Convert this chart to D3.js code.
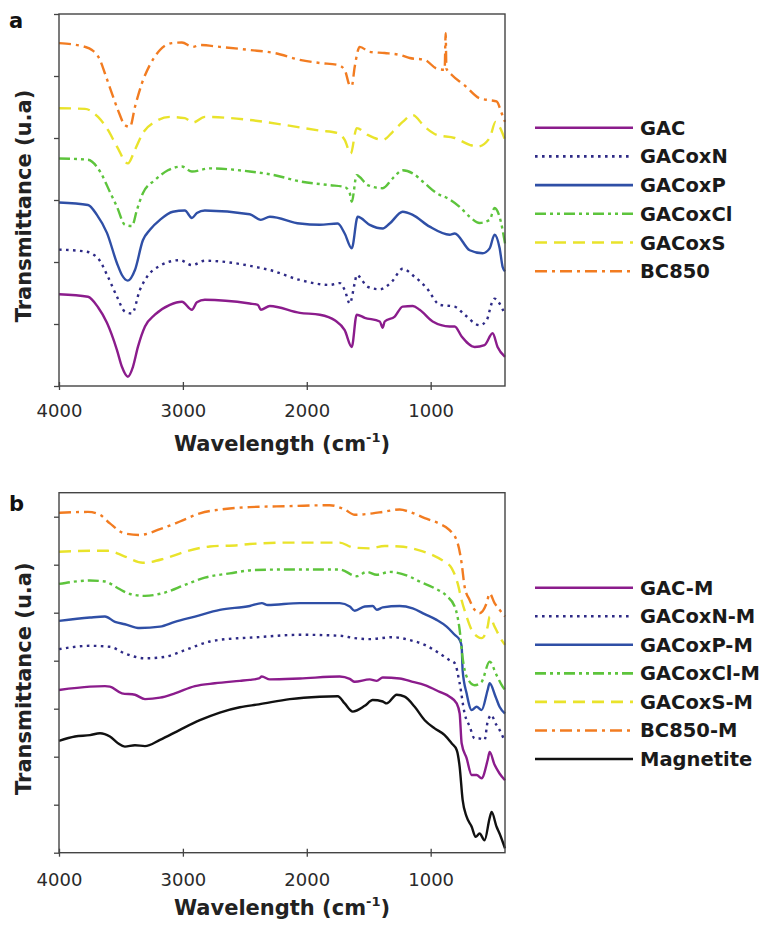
<!DOCTYPE html>
<html>
<head>
<meta charset="utf-8">
<script src="https://cdn.jsdelivr.net/npm/d3@7/dist/d3.min.js"></script>
<style>
  body { margin: 0; background: #fff; }
  text { font-family: "DejaVu Sans", sans-serif; }
</style>
</head>
<body>
<svg id="chart" width="766" height="926"></svg>
<script>
// ---- axis ticks ----
const wavenumberTicks = [4000, 3000, 2000, 1000];
const ticksA = [0, 1, 2, 3, 4, 5, 6];
const ticksB = [0, 1, 2, 3, 4, 5, 6, 7];

// ---- series names ----
const seriesA = ["GAC", "GACoxN", "GACoxP", "GACoxCl", "GACoxS", "BC850"];
const seriesB = ["GAC-M", "GACoxN-M", "GACoxP-M", "GACoxCl-M", "GACoxS-M", "BC850-M", "Magnetite"];

// ---- FTIR spectra, panel a: [wavenumber cm-1, transmittance (a.u., offset)] ----
const GAC = [[4000,1.48],[3766,1.44],[3685,1.27],[3613,1.02],[3532,0.58],[3492,0.31],[3444,0.15],[3403,0.31],[3363,0.63],[3306,0.96],[3226,1.15],[3105,1.31],[3008,1.36],[2927,1.23],[2887,1.35],[2823,1.39],[2460,1.33],[2395,1.31],[2371,1.23],[2298,1.29],[2056,1.18],[1895,1.15],[1774,1.06],[1694,0.90],[1637,0.63],[1597,1.15],[1532,1.10],[1411,1.04],[1387,0.94],[1371,1.04],[1290,1.12],[1226,1.28],[1145,1.29],[1089,1.23],[984,1.04],[847,0.96],[806,0.96],[750,0.80],[645,0.63],[565,0.66],[500,0.85],[460,0.63],[400,0.47]];
const GACoxN = [[4000,2.20],[3790,2.17],[3685,2.06],[3605,1.76],[3532,1.44],[3468,1.20],[3411,1.17],[3347,1.55],[3290,1.76],[3185,1.94],[3024,2.03],[2927,1.95],[2823,2.02],[2387,1.91],[2298,1.87],[2056,1.71],[1815,1.63],[1734,1.66],[1694,1.55],[1653,1.33],[1613,1.66],[1597,1.79],[1508,1.60],[1411,1.56],[1315,1.68],[1226,1.89],[1129,1.76],[1032,1.58],[927,1.31],[806,1.28],[726,1.15],[605,0.98],[548,1.06],[508,1.33],[484,1.41],[444,1.33],[400,1.15]];
const GACoxP = [[4000,2.96],[3766,2.92],[3694,2.76],[3613,2.47],[3532,1.98],[3492,1.79],[3444,1.70],[3387,1.87],[3323,2.35],[3266,2.52],[3185,2.68],[3081,2.81],[2984,2.83],[2927,2.71],[2887,2.79],[2823,2.83],[2460,2.77],[2371,2.68],[2298,2.73],[2056,2.62],[1895,2.60],[1750,2.62],[1694,2.46],[1637,2.22],[1589,2.73],[1492,2.60],[1387,2.54],[1331,2.62],[1226,2.81],[1145,2.76],[1008,2.57],[847,2.44],[806,2.46],[685,2.19],[581,2.14],[524,2.22],[484,2.44],[444,2.23],[419,1.92],[400,1.85]];
const GACoxCl = [[4000,3.67],[3766,3.65],[3669,3.46],[3589,3.13],[3532,2.89],[3468,2.60],[3411,2.58],[3371,2.84],[3323,3.11],[3226,3.32],[3121,3.48],[3008,3.54],[2927,3.46],[2782,3.51],[2460,3.46],[2258,3.40],[2056,3.30],[1815,3.24],[1694,3.21],[1653,3.11],[1637,2.97],[1597,3.40],[1508,3.24],[1387,3.19],[1306,3.35],[1226,3.48],[1145,3.43],[1048,3.27],[952,3.11],[847,3.01],[766,2.89],[685,2.73],[605,2.63],[524,2.68],[484,2.87],[444,2.73],[400,2.30]];
const GACoxS = [[4000,4.48],[3790,4.47],[3685,4.34],[3605,4.13],[3532,3.86],[3444,3.59],[3387,3.81],[3323,4.08],[3226,4.26],[3105,4.34],[2984,4.32],[2919,4.25],[2823,4.34],[2460,4.29],[2177,4.21],[1895,4.12],[1750,4.08],[1694,3.97],[1645,3.75],[1597,4.16],[1508,4.05],[1387,3.97],[1306,4.10],[1226,4.26],[1145,4.37],[1048,4.18],[952,4.05],[806,4.00],[685,3.89],[621,3.86],[524,4.00],[476,4.26],[444,4.18],[400,3.97]];
const BC850 = [[4000,5.53],[3790,5.47],[3734,5.42],[3669,5.26],[3629,5.04],[3573,4.72],[3524,4.45],[3468,4.21],[3427,4.18],[3387,4.50],[3331,4.88],[3266,5.18],[3185,5.42],[3089,5.53],[3008,5.54],[2919,5.47],[2863,5.50],[2702,5.47],[2460,5.42],[2258,5.37],[2056,5.26],[1895,5.21],[1750,5.18],[1694,5.10],[1653,4.85],[1637,4.84],[1613,5.15],[1573,5.47],[1492,5.39],[1371,5.37],[1250,5.34],[1169,5.29],[1048,5.26],[952,5.12],[887,5.10],[879,5.69],[873,5.12],[831,5.02],[726,4.85],[605,4.64],[524,4.61],[468,4.59],[427,4.40],[400,4.26]];

// ---- FTIR spectra, panel b (magnetite composites) ----
const GAC_M = [[4000,3.39],[3750,3.46],[3629,3.47],[3589,3.46],[3492,3.32],[3387,3.29],[3306,3.20],[3185,3.23],[3065,3.32],[2903,3.47],[2742,3.53],[2540,3.58],[2460,3.60],[2387,3.63],[2363,3.67],[2298,3.61],[2056,3.63],[1734,3.67],[1653,3.62],[1613,3.56],[1492,3.61],[1435,3.58],[1387,3.65],[1250,3.63],[1145,3.56],[1048,3.49],[927,3.35],[847,3.25],[790,3.11],[766,2.90],[750,2.28],[710,1.97],[669,1.62],[629,1.62],[589,1.55],[540,1.93],[524,2.10],[484,1.83],[444,1.65],[400,1.51]];
const GACoxN_M = [[4000,4.24],[3750,4.31],[3589,4.29],[3468,4.15],[3306,4.05],[3145,4.08],[2984,4.22],[2782,4.40],[2540,4.47],[2460,4.48],[2056,4.54],[1734,4.52],[1613,4.47],[1492,4.45],[1306,4.49],[1169,4.43],[1048,4.33],[927,4.15],[847,4.01],[806,3.95],[766,3.53],[726,2.90],[685,2.63],[645,2.38],[605,2.38],[565,2.35],[540,2.73],[508,2.87],[484,2.73],[444,2.56],[400,2.31]];
const GACoxP_M = [[4000,4.83],[3750,4.90],[3629,4.92],[3548,4.81],[3468,4.76],[3347,4.68],[3185,4.71],[3065,4.81],[2903,4.92],[2702,5.06],[2460,5.14],[2363,5.20],[2315,5.16],[2056,5.20],[1734,5.20],[1653,5.13],[1613,5.04],[1532,5.13],[1468,5.14],[1435,5.06],[1387,5.11],[1250,5.14],[1145,5.09],[1048,4.97],[952,4.85],[871,4.71],[806,4.54],[766,4.43],[750,4.30],[742,3.80],[710,3.32],[669,2.97],[629,3.04],[589,2.97],[540,3.39],[524,3.53],[476,3.25],[444,3.04],[400,2.90]];
const GACoxCl_M = [[4000,5.60],[3750,5.67],[3629,5.65],[3524,5.51],[3427,5.39],[3306,5.35],[3145,5.42],[2984,5.58],[2823,5.73],[2621,5.82],[2419,5.89],[2137,5.90],[1734,5.90],[1597,5.76],[1516,5.85],[1435,5.79],[1331,5.85],[1169,5.75],[1089,5.65],[968,5.51],[871,5.35],[806,5.13],[766,4.64],[742,4.06],[710,3.67],[645,3.49],[589,3.56],[524,3.98],[468,3.70],[419,3.46],[400,3.39]];
const GACoxS_M = [[4000,6.27],[3750,6.29],[3605,6.29],[3468,6.17],[3323,6.04],[3145,6.13],[2984,6.27],[2782,6.38],[2540,6.41],[2460,6.43],[2137,6.46],[1734,6.46],[1629,6.36],[1492,6.34],[1371,6.39],[1250,6.38],[1105,6.31],[984,6.20],[887,6.06],[831,5.93],[782,5.61],[750,5.26],[710,4.92],[669,4.64],[621,4.50],[589,4.47],[540,4.71],[524,4.92],[484,4.71],[427,4.43],[400,4.33]];
const BC850_M = [[4000,7.08],[3766,7.10],[3669,7.04],[3589,6.86],[3468,6.65],[3347,6.62],[3185,6.74],[3024,6.90],[2863,7.07],[2661,7.16],[2460,7.20],[2137,7.22],[1815,7.24],[1694,7.15],[1613,7.04],[1468,7.07],[1387,7.10],[1250,7.15],[1169,7.10],[1048,6.97],[927,6.85],[847,6.72],[782,6.45],[750,6.03],[726,5.54],[685,5.26],[645,5.06],[605,4.99],[548,5.20],[524,5.40],[484,5.20],[444,5.06],[400,4.92]];
const Magnetite = [[4000,2.33],[3871,2.42],[3750,2.45],[3669,2.49],[3589,2.42],[3524,2.28],[3468,2.21],[3387,2.24],[3306,2.22],[3185,2.35],[3024,2.56],[2863,2.76],[2702,2.92],[2540,3.03],[2387,3.09],[2137,3.20],[1895,3.25],[1750,3.26],[1694,3.11],[1629,2.94],[1532,3.06],[1468,3.18],[1387,3.15],[1355,3.11],[1274,3.29],[1210,3.25],[1129,3.04],[1048,2.76],[968,2.59],[887,2.45],[831,2.28],[790,2.14],[766,1.79],[742,1.10],[710,0.75],[669,0.54],[637,0.33],[605,0.40],[565,0.26],[524,0.72],[508,0.85],[468,0.54],[444,0.40],[400,0.09]];

// ---- line styles shared by the plain and magnetite series ----
const styles = {
  GAC:     { color: "#8b1c8c", dash: null },
  GACoxN:  { color: "#2e2a86", dash: "2.6,4.4" },
  GACoxP:  { color: "#2f4fa6", dash: null },
  GACoxCl: { color: "#5dc43c", dash: "11,4,3,4,3,4" },
  GACoxS:  { color: "#e9e32b", dash: "12,7" },
  BC850:   { color: "#f27c21", dash: "12,5,3,5" },
  Magnetite: { color: "#111111", dash: null }
};
const styleOf = name => styles[name.replace("-M", "")];

const panels = [
  { letter: "a", top: 14, bottom: 386, yMax: 6, yTicks: ticksA, names: seriesA,
    data: [GAC, GACoxN, GACoxP, GACoxCl, GACoxS, BC850],
    legendTop: 127.7, legendStep: 28.7, letterY: 28, tickLabelY: 417, titleY: 451 },
  { letter: "b", top: 492.7, bottom: 852.7, yMax: 7.5, yTicks: ticksB, names: seriesB,
    data: [GAC_M, GACoxN_M, GACoxP_M, GACoxCl_M, GACoxS_M, BC850_M, Magnetite],
    legendTop: 587.7, legendStep: 28.55, letterY: 511, tickLabelY: 886, titleY: 915 }
];

const svg = d3.select("#chart");
const left = 59, right = 505;
const axisColor = "#444";

panels.forEach(p => {
  const x = d3.scaleLinear().domain([4000, 400]).range([left, right]);
  const y = d3.scaleLinear().domain([0, p.yMax]).range([p.bottom, p.top]);
  const g = svg.append("g");

  // spectra
  const line = d3.line().x(d => x(d[0])).y(d => y(d[1])).curve(d3.curveMonotoneX);
  p.data.forEach((series, i) => {
    const st = styleOf(p.names[i]);
    g.append("path")
      .datum(series)
      .attr("d", line)
      .attr("fill", "none")
      .attr("stroke", st.color)
      .attr("stroke-width", 2.4)
      .attr("stroke-linejoin", "round")
      .attr("stroke-dasharray", st.dash);
  });

  // frame
  g.append("rect")
    .attr("x", left).attr("y", p.top)
    .attr("width", right - left).attr("height", p.bottom - p.top)
    .attr("fill", "none").attr("stroke", axisColor).attr("stroke-width", 1.4);

  // left ticks (no labels: arbitrary units)
  const yAxis = d3.axisLeft(y).tickValues(p.yTicks).tickSize(5).tickFormat("");
  g.append("g").attr("transform", `translate(${left},0)`).call(yAxis)
    .call(a => a.select(".domain").remove())
    .call(a => a.selectAll("line").attr("stroke", axisColor).attr("stroke-width", 1.3));

  // bottom ticks crossing the frame
  const xAxis = d3.axisBottom(x).tickValues(wavenumberTicks).tickSize(4).tickFormat(d3.format("d"));
  const xa = g.append("g").attr("transform", `translate(0,${p.bottom})`).call(xAxis);
  xa.select(".domain").remove();
  xa.selectAll("line").attr("y1", -4).attr("stroke", axisColor).attr("stroke-width", 1.3);
  xa.selectAll("text").attr("y", null).attr("dy", null)
    .attr("transform", `translate(0,${p.tickLabelY - p.bottom})`)
    .attr("font-family", "DejaVu Sans").attr("font-size", 18).attr("fill", "#2a2a2a");

  // x title with superscript
  const xt = g.append("text").attr("x", (left + right) / 2).attr("y", p.titleY)
    .attr("text-anchor", "middle").attr("font-size", 21).attr("font-weight", "bold").attr("fill", "#222");
  xt.append("tspan").text("Wavelength (cm");
  xt.append("tspan").attr("font-size", 13).attr("dy", -9).text("-1");
  xt.append("tspan").attr("dy", 9).text(")");

  // y title
  g.append("text")
    .attr("transform", `translate(31,${(p.top + p.bottom) / 2 + 6}) rotate(-90)`)
    .attr("text-anchor", "middle").attr("font-size", 21).attr("font-weight", "bold").attr("fill", "#222")
    .text("Transmittance (u.a)");

  // panel letter
  g.append("text").attr("x", 9).attr("y", p.letterY)
    .attr("font-size", 21).attr("font-weight", "bold").attr("fill", "#111").text(p.letter);

  // legend
  const lg = g.append("g");
  p.names.forEach((name, i) => {
    const st = styleOf(name);
    const cy = p.legendTop + i * p.legendStep;
    lg.append("line").attr("x1", 535).attr("x2", 633).attr("y1", cy).attr("y2", cy)
      .attr("stroke", st.color).attr("stroke-width", 2.6).attr("stroke-dasharray", st.dash);
    lg.append("text").attr("x", 640).attr("y", cy + 7)
      .attr("font-size", 19.5).attr("font-weight", "bold").attr("fill", "#1a1a1a").text(name);
  });
});
</script>
</body>
</html>
